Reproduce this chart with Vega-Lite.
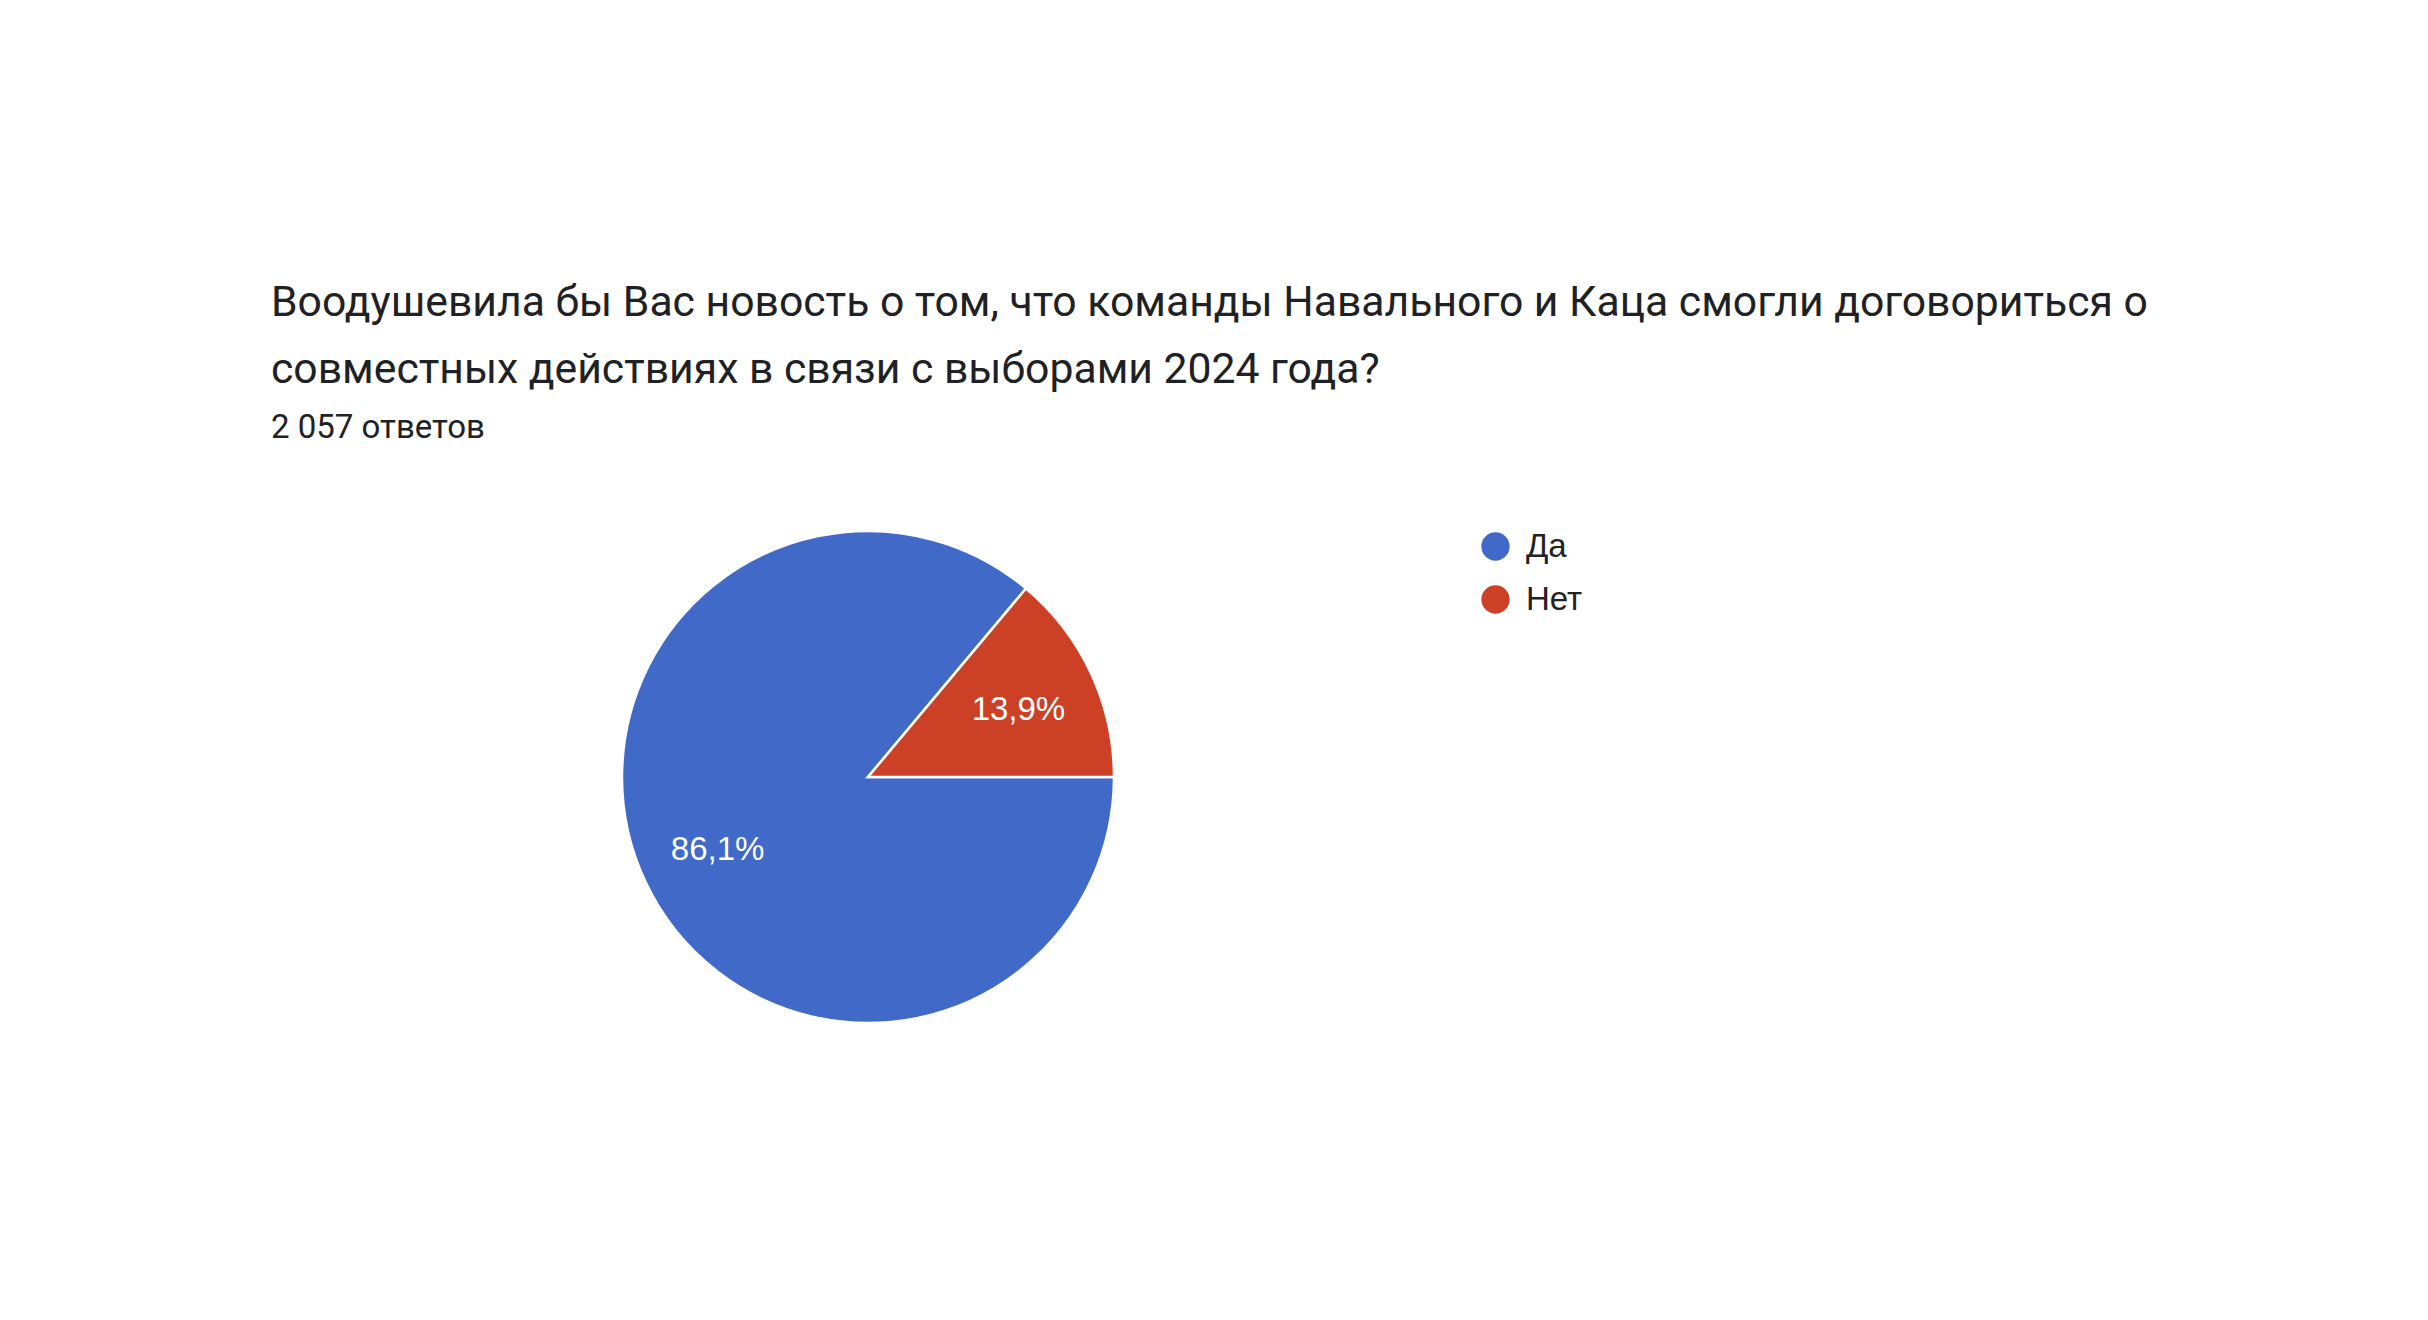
{
  "$schema": "https://vega.github.io/schema/vega-lite/v6.json",
  "width": 492,
  "height": 492,
  "autosize": {"type": "none"},
  "padding": {"left": 622, "top": 531, "right": 1314, "bottom": 297},
  "background": "#ffffff",
  "title": {
    "text": [
      "Воодушевила бы Вас новость о том, что команды Навального и Каца смогли договориться о",
      "совместных действиях в связи с выборами 2024 года?"
    ],
    "subtitle": "2 057 ответов",
    "anchor": "start",
    "frame": "group",
    "dx": -351,
    "offset": 81,
    "font": "Roboto",
    "fontSize": 42.7,
    "fontWeight": "normal",
    "lineHeight": 67,
    "color": "#202124",
    "subtitleFont": "Roboto",
    "subtitleFontSize": 33,
    "subtitleColor": "#202124",
    "subtitlePadding": 20
  },
  "data": {
    "values": [
      {"answer": "Да", "share": 86.1, "label": "86,1%"},
      {"answer": "Нет", "share": 13.9, "label": "13,9%"}
    ]
  },
  "encoding": {
    "theta": {
      "field": "share",
      "type": "quantitative",
      "stack": true,
      "scale": {"range": [1.5707963, 7.8539816]}
    },
    "order": {"field": "answer", "type": "nominal", "sort": "ascending"},
    "color": {
      "field": "answer",
      "type": "nominal",
      "title": null,
      "scale": {"domain": ["Да", "Нет"], "range": ["#4069c8", "#cc4126"]},
      "legend": {
        "orient": "none",
        "legendX": 857,
        "legendY": -1,
        "symbolType": "circle",
        "symbolSize": 800,
        "symbolStrokeWidth": 0,
        "labelFont": "Liberation Sans",
        "labelFontSize": 33,
        "labelColor": "#222222",
        "labelOffset": 14,
        "rowPadding": 19,
        "padding": 0
      }
    }
  },
  "layer": [
    {"mark": {"type": "arc", "stroke": "#ffffff", "strokeWidth": 2.5}},
    {
      "mark": {"type": "text", "radius": 166, "font": "Liberation Sans", "fontSize": 33, "dy": 3},
      "encoding": {"text": {"field": "label"}, "color": {"value": "#ffffff"}}
    }
  ],
  "config": {"view": {"stroke": null}}
}
